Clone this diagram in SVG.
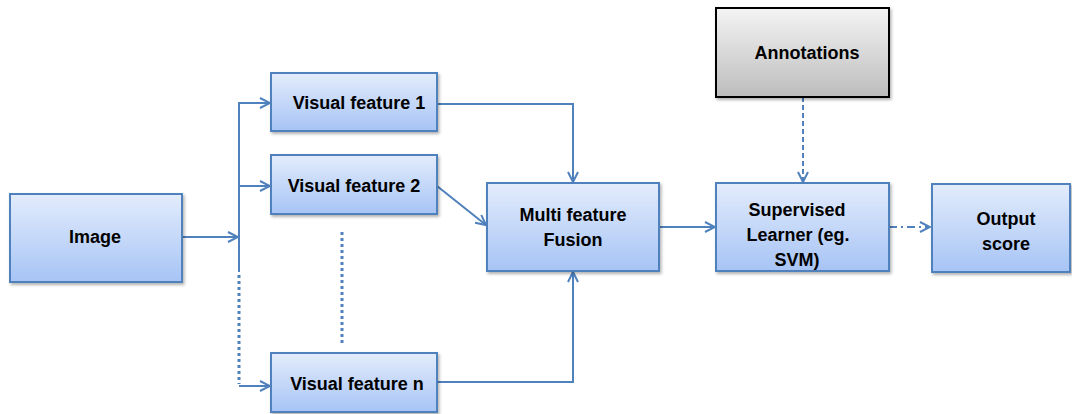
<svg xmlns="http://www.w3.org/2000/svg" width="1072" height="414" viewBox="0 0 1072 414">
  <defs>
    <linearGradient id="blueFill" x1="0" y1="0" x2="0" y2="1">
      <stop offset="0" stop-color="#e3ecfc"/>
      <stop offset="1" stop-color="#a7c4f5"/>
    </linearGradient>
    <linearGradient id="greyFill" x1="0" y1="0" x2="0" y2="1">
      <stop offset="0" stop-color="#f4f4f4"/>
      <stop offset="1" stop-color="#bdbdbd"/>
    </linearGradient>
    <filter id="shadow" x="-10%" y="-10%" width="130%" height="130%">
      <feDropShadow dx="1.5" dy="2" stdDeviation="1.5" flood-color="#000" flood-opacity="0.3"/>
    </filter>
    <marker id="arrow" viewBox="0 0 12 12" refX="11" refY="6" markerWidth="12" markerHeight="12" markerUnits="userSpaceOnUse" orient="auto">
      <path d="M1,1 L11,6 L1,11" fill="none" stroke="#4f81bd" stroke-width="2"/>
    </marker>
  </defs>
  <style>
    .box { fill: url(#blueFill); stroke: #4f81bd; stroke-width: 2; filter: url(#shadow); }
    .grey { fill: url(#greyFill); stroke: #000; stroke-width: 2; filter: url(#shadow); }
    .lbl { font-family: "Liberation Sans", Arial, sans-serif; font-weight: bold; font-size: 18px; fill: #000; text-anchor: middle; }
    .edge { fill: none; stroke: #4f81bd; stroke-width: 2; }
    .dot { stroke-width: 3; stroke-dasharray: 3 3; }
    .dash { stroke-dasharray: 5 3; }
    .dashdot { stroke-dasharray: 8 4 2 4; }
  </style>

  <g id="connectors">
    <path class="edge" d="M182,237 H238" marker-end="url(#arrow)"/>
    <path class="edge" d="M239,272 V103 H270" marker-end="url(#arrow)"/>
    <path class="edge" d="M239,186 H270" marker-end="url(#arrow)"/>
    <path class="edge dot" d="M239,275 V384"/>
    <path class="edge" d="M239,386 H270" marker-end="url(#arrow)"/>
    <path class="edge dot" d="M342,232 V343"/>
    <path class="edge" d="M437,104 H573 V182" marker-end="url(#arrow)"/>
    <path class="edge" d="M437,186 L486,225" marker-end="url(#arrow)"/>
    <path class="edge" d="M437,382 H573 V272" marker-end="url(#arrow)"/>
    <path class="edge" d="M659,227 H715" marker-end="url(#arrow)"/>
    <path class="edge dash" d="M803,97 V182" marker-end="url(#arrow)"/>
    <path class="edge dashdot" d="M889,227 H930" marker-end="url(#arrow)"/>
  </g>

  <g id="image">
    <rect class="box" x="10" y="194" width="172" height="88"/>
    <text class="lbl" x="95" y="243">Image</text>
  </g>
  <g id="visual-feature-1">
    <rect class="box" x="271" y="73" width="166" height="58"/>
    <text class="lbl" x="359" y="109">Visual feature 1</text>
  </g>
  <g id="visual-feature-2">
    <rect class="box" x="271" y="155" width="166" height="59"/>
    <text class="lbl" x="354" y="192">Visual feature 2</text>
  </g>
  <g id="visual-feature-n">
    <rect class="box" x="271" y="353" width="166" height="59"/>
    <text class="lbl" x="357" y="390">Visual feature n</text>
  </g>
  <g id="multi-feature-fusion">
    <rect class="box" x="487" y="183" width="172" height="88"/>
    <text class="lbl" x="573" y="221">Multi feature</text>
    <text class="lbl" x="573" y="246">Fusion</text>
  </g>
  <g id="annotations">
    <rect class="grey" x="716" y="8" width="173" height="89"/>
    <text class="lbl" x="807" y="59">Annotations</text>
  </g>
  <g id="supervised-learner">
    <rect class="box" x="716" y="183" width="173" height="88"/>
    <text class="lbl" x="797" y="216">Supervised</text>
    <text class="lbl" x="798" y="241">Learner (eg.</text>
    <text class="lbl" x="797" y="266">SVM)</text>
  </g>
  <g id="output-score">
    <rect class="box" x="932" y="184" width="138" height="88"/>
    <text class="lbl" x="1006" y="225">Output</text>
    <text class="lbl" x="1006" y="250">score</text>
  </g>
</svg>
